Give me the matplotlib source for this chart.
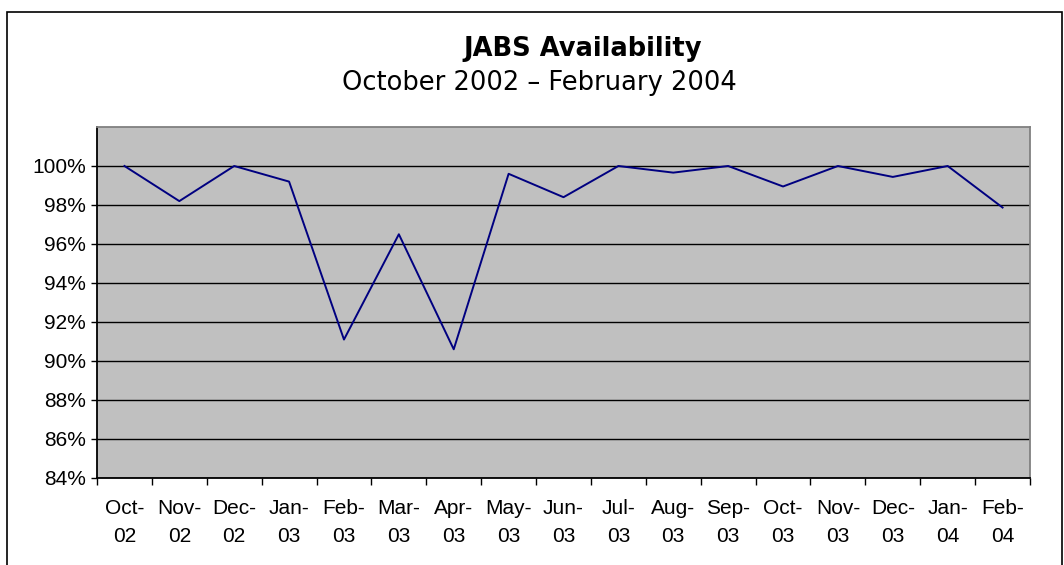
import matplotlib.pyplot as plt
from matplotlib.patches import Rectangle

months = ['Oct-\n02', 'Nov-\n02', 'Dec-\n02', 'Jan-\n03', 'Feb-\n03', 'Mar-\n03',
          'Apr-\n03', 'May-\n03', 'Jun-\n03', 'Jul-\n03', 'Aug-\n03', 'Sep-\n03',
          'Oct-\n03', 'Nov-\n03', 'Dec-\n03', 'Jan-\n04', 'Feb-\n04']
availability = [100.0, 98.2, 100.0, 99.2, 91.1, 96.5, 90.6, 99.6, 98.4,
                 100.0, 99.66, 100.0, 98.95, 100.0, 99.44, 100.0, 97.87]
y_ticks = [84, 86, 88, 90, 92, 94, 96, 98, 100]

fig = plt.figure(figsize=(10.64, 5.65), dpi=100)
ax = fig.add_axes([97 / 1064, 87 / 565, 933 / 1064, 351 / 565])

# outer chart border
fig.patches.append(Rectangle((7 / 1064, -0.01), 1055 / 1064, 553 / 565 + 0.01,
                             transform=fig.transFigure, fill=False,
                             edgecolor='black', linewidth=1.2))

ax.set_facecolor('#c0c0c0')
x = list(range(len(months)))
ax.plot(x, availability, color='#000080', linewidth=1.4, zorder=3)

ax.set_xlim(-0.5, len(months) - 0.5)
ax.set_ylim(84, 102)
ax.set_yticks(y_ticks)
ax.set_yticklabels([f'{v}%' for v in y_ticks])
ax.yaxis.grid(True, color='black', linewidth=1)
ax.set_axisbelow(True)

# Excel-style ticks between categories
ax.set_xticks([i - 0.5 for i in range(len(months) + 1)])
ax.set_xticklabels([])
ax.set_xticks(x, minor=True)
ax.set_xticklabels(months, minor=True, linespacing=1.6)
ax.tick_params(axis='x', which='major', direction='out', length=5, width=1, color='black')
ax.tick_params(axis='x', which='minor', length=0, pad=15)
ax.tick_params(axis='y', direction='out', length=4.5, width=1, pad=3.6)
for lbl in ax.get_xticklabels(minor=True) + ax.get_yticklabels():
    lbl.set_fontfamily('Liberation Sans')
    lbl.set_fontsize(15)

ax.spines['left'].set_color('black')
ax.spines['bottom'].set_color('black')
ax.spines['top'].set_color('#808080')
ax.spines['right'].set_color('#808080')
for s in ax.spines.values():
    s.set_linewidth(1.3)

fig.text(583 / 1064, 1 - 49.5 / 565, 'JABS Availability', ha='center', va='center',
         fontsize=18.5, fontweight='bold', family='DejaVu Sans')
fig.text(539 / 1064, 1 - 83 / 565, 'October 2002 \u2013 February 2004', ha='center',
         va='center', fontsize=18.5, family='DejaVu Sans')

plt.savefig('out.png', dpi=100)
